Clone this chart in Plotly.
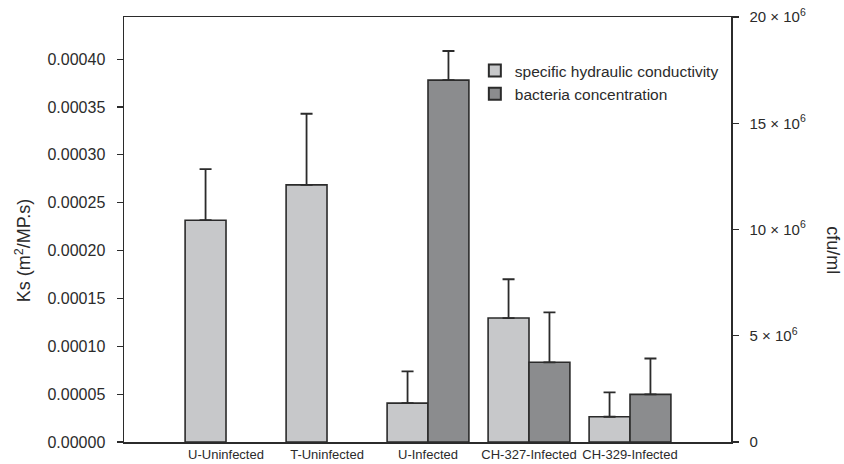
import plotly.graph_objects as go

categories = ["U-Uninfected", "T-Uninfected", "U-Infected", "CH-327-Infected", "CH-329-Infected"]
ks_values = [0.0002317, 0.0002686, 0.0000406, 0.0001295, 0.0000264]
ks_errors = [0.0000533, 0.0000743, 0.0000331, 0.0000405, 0.0000254]
bact_values = [None, None, 17.03e6, 3.75e6, 2.24e6]
bact_errors = [None, None, 1.37e6, 2.35e6, 1.69e6]
right_tickvals = [0, 5e6, 10e6, 15e6, 20e6]
right_ticktext = ["0", "5 \u00d7 10<sup>6</sup>", "10 \u00d7 10<sup>6</sup>",
                  "15 \u00d7 10<sup>6</sup>", "20 \u00d7 10<sup>6</sup>"]
left_tickvals = [0, 0.00005, 0.0001, 0.00015, 0.0002, 0.00025, 0.0003, 0.00035, 0.0004]

xs = list(range(len(categories)))
FONT = "Liberation Sans, Arial, sans-serif"
INK = "#2b2b2b"

fig = go.Figure()
fig.add_trace(go.Bar(
    x=xs, y=ks_values, name="specific hydraulic conductivity",
    width=0.405, offset=-0.405,
    marker=dict(color="#c7c8ca", line=dict(color=INK, width=1.6)),
    error_y=dict(type="data", symmetric=False, array=ks_errors,
                 arrayminus=[0] * len(ks_errors), color=INK, thickness=1.8, width=6),
    yaxis="y",
))
fig.add_trace(go.Bar(
    x=xs, y=bact_values, name="bacteria concentration",
    width=0.405, offset=0,
    marker=dict(color="#8b8c8e", line=dict(color=INK, width=1.6)),
    error_y=dict(type="data", symmetric=False, array=bact_errors,
                 arrayminus=[0] * len(bact_errors), color=INK, thickness=1.8, width=6),
    yaxis="y2",
))

fig.update_layout(
    width=844, height=464,
    margin=dict(l=124, r=113, t=17, b=22),
    paper_bgcolor="white", plot_bgcolor="white",
    font=dict(family=FONT, color=INK),
    barmode="overlay",
    showlegend=True,
    hovermode=False,
    legend=dict(x=0.578, y=0.913, xanchor="left", yanchor="top",
                font=dict(size=15.5, family=FONT, color=INK),
                bgcolor="rgba(0,0,0,0)", tracegroupgap=0, itemsizing="constant"),
    xaxis=dict(
        range=[-1.01, 5.0], tickvals=xs, ticktext=categories,
        showline=True, linecolor=INK, linewidth=1.5, mirror=True,
        ticks="", showgrid=False, zeroline=False, automargin=False,
        tickfont=dict(size=13, family=FONT, color=INK),
    ),
    yaxis=dict(
        range=[0, 0.000444], tickvals=left_tickvals, tickformat=".5f",
        showline=True, linecolor=INK, linewidth=1.5,
        ticks="outside", ticklen=6, tickcolor=INK, tickwidth=1.2,
        ticklabelstandoff=8, ticklabeloverflow="allow",
        showgrid=False, zeroline=False, automargin=False,
        tickfont=dict(size=16, family=FONT, color=INK),
    ),
    yaxis2=dict(
        range=[0, 20e6], overlaying="y", side="right",
        tickvals=right_tickvals, ticktext=right_ticktext,
        showline=True, linecolor=INK, linewidth=1.5,
        ticks="outside", ticklen=6, tickcolor=INK, tickwidth=1.2,
        ticklabelstandoff=8, ticklabeloverflow="allow",
        showgrid=False, zeroline=False, automargin=False,
        tickfont=dict(size=15, family=FONT, color=INK),
    ),
    annotations=[
        dict(text="Ks (m<sup>2</sup>/MP.s)", xref="paper", yref="paper",
             x=(23 - 124) / 607, y=0.451, xanchor="center", yanchor="middle",
             textangle=-90, showarrow=False,
             font=dict(size=18, family=FONT, color=INK)),
        dict(text="cfu/ml", xref="paper", yref="paper",
             x=(833 - 124) / 607, y=0.451, xanchor="center", yanchor="middle",
             textangle=90, showarrow=False,
             font=dict(size=18, family=FONT, color=INK)),
    ],
)

fig.write_html("out.html",
               config={"displayModeBar": False, "staticPlot": True},
               post_script="document.body.style.margin='0';document.body.style.overflow='hidden';")
